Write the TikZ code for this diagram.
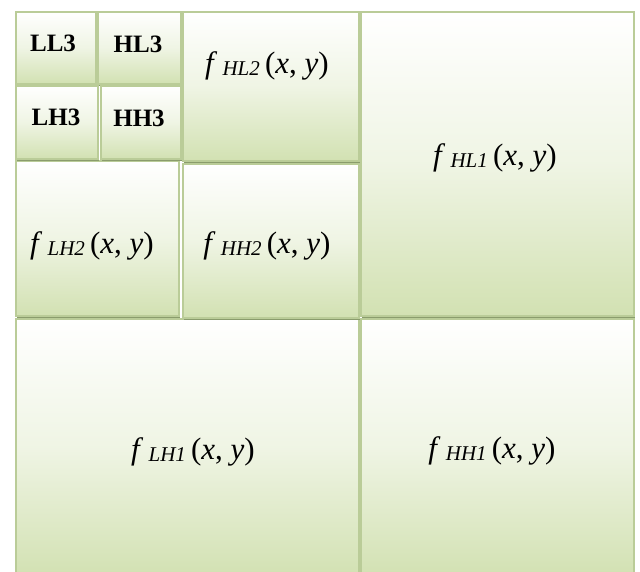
\documentclass[tikz,border=0pt]{standalone}
\usepackage{fontspec}
\setmainfont{Liberation Serif}
\usetikzlibrary{shadows}
\definecolor{boxgreen}{RGB}{210,225,178}
\definecolor{boxborder}{RGB}{186,204,152}
\definecolor{boxshadow}{RGB}{138,156,108}
\tikzset{
  cell/.style={rectangle, draw=boxborder, line width=1.5pt,
    top color=white, bottom color=boxgreen, middle color=boxgreen!35!white,
    anchor=north west, inner sep=0pt,
    general shadow={fill=boxshadow, shadow xshift=1pt, shadow yshift=-2.5pt}},
  smalllbl/.style={font=\fontsize{25}{25}\selectfont\bfseries, inner sep=0pt},
  funclbl/.style={font=\fontsize{31}{31}\selectfont, inner sep=0pt},
}
\newcommand{\fsub}[1]{\textit{f}\,\raisebox{-1.5pt}{\fontsize{21}{21}\selectfont\textit{#1}}\,(\textit{x}, \textit{y})}
\begin{document}
\begin{tikzpicture}[x=1pt,y=-1pt]
\useasboundingbox (0,0) rectangle (640,571);
% level 1
\node[cell, minimum width=273pt, minimum height=304pt] (HL1) at (360,11) {};
\node[cell, minimum width=343pt, minimum height=258pt] (LH1) at (15,318) {};
\node[cell, minimum width=273pt, minimum height=258pt] (HH1) at (360,318) {};
% level 2
\node[cell, minimum width=176pt, minimum height=149pt] (HL2) at (182,11) {};
\node[cell, minimum width=163pt, minimum height=155pt] (LH2) at (15,160) {};
\node[cell, minimum width=176pt, minimum height=154pt] (HH2) at (182,163) {};
% level 3
\node[cell, minimum width=80pt, minimum height=72pt] (LL3) at (15,11) {};
\node[cell, minimum width=83pt, minimum height=72pt] (HL3) at (97,11) {};
\node[cell, minimum width=82pt, minimum height=73pt] (LH3) at (15,85) {};
\node[cell, minimum width=80pt, minimum height=73pt] (HH3) at (100,85) {};
% labels
\node[smalllbl] (tLL3) at (53,43) {LL3};
\node[smalllbl] (tHL3) at (138,44) {HL3};
\node[smalllbl] (tLH3) at (56,117) {LH3};
\node[smalllbl] (tHH3) at (139,118) {HH3};
\node[funclbl] (tHL2) at (267,66) {\fsub{HL2}};
\node[funclbl] (tLH2) at (92,246) {\fsub{LH2}};
\node[funclbl] (tHH2) at (267,246) {\fsub{HH2}};
\node[funclbl] (tHL1) at (495,158) {\fsub{HL1}};
\node[funclbl] (tLH1) at (193,452) {\fsub{LH1}};
\node[funclbl] (tHH1) at (492,451) {\fsub{HH1}};
\end{tikzpicture}
\end{document}
